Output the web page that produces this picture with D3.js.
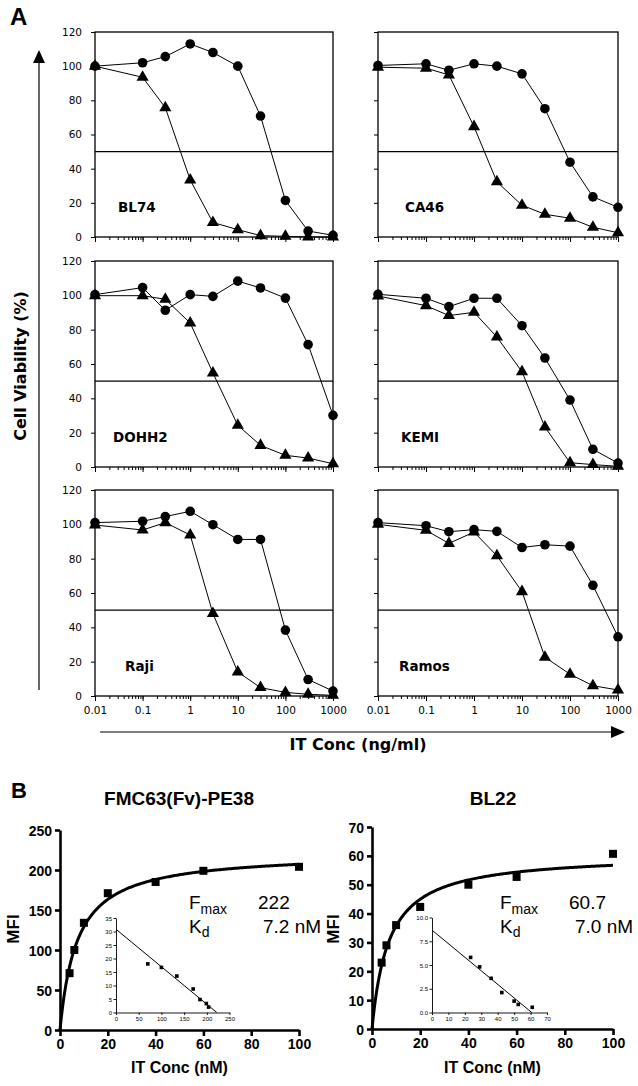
<!DOCTYPE html>
<html><head><meta charset="utf-8">
<script src="https://cdn.jsdelivr.net/npm/d3@7"></script>
<style>body{margin:0;background:#fff}</style>
</head><body>
<svg id="c" width="638" height="1086"></svg>
<script>
// ---------- Panel A data ----------
const concentrations = [0.01, 0.1, 0.3, 1, 3, 10, 30, 100, 300, 1000];
const cellLines = ["BL74", "CA46", "DOHH2", "KEMI", "Raji", "Ramos"];
const circleBL74    = [100, 102, 105.6, 113, 108, 100, 70.8, 21.4, 3.5, 1];
const triangleBL74  = [100, 93.5, 75.7, 33.4, 8.5, 4.3, 0.8, 0.4, 0, 0];
const circleCA46    = [100.4, 101.4, 97.6, 101.4, 100, 95.5, 75.1, 43.8, 23.5, 17.4];
const triangleCA46  = [99.4, 98.8, 94.9, 64.6, 32.3, 18.6, 13.3, 11, 5.7, 2.5];
const circleDOHH2   = [100.4, 104.5, 91.3, 100.4, 99.4, 108.3, 104.3, 98.4, 71.3, 30.1];
const triangleDOHH2 = [99.8, 99.8, 97.7, 83.9, 54.8, 24.3, 12.6, 6.8, 5.2, 1.9];
const circleKEMI    = [100.6, 98.3, 93.4, 98.3, 98.3, 82.3, 63.5, 39, 10.3, 2.3];
const triangleKEMI  = [99.6, 94, 88.2, 90.1, 75.7, 55.5, 23.3, 2.5, 1.4, 0.4];
const circleRaji    = [101, 101.8, 104.5, 107.6, 99.8, 91.2, 91.2, 38.4, 9.6, 2.9];
const triangleRaji  = [99.6, 96.7, 101, 93.8, 48, 14, 4.9, 2.1, 1, 0.4];
const circleRamos   = [101, 99.2, 95.7, 96.9, 95.9, 86.5, 88.1, 87.3, 64.5, 34.5];
const triangleRamos = [100, 96.5, 88.9, 95.5, 81.7, 60.8, 22.6, 12.7, 6, 3.5];
const viabilityTicks = [0, 20, 40, 60, 80, 100, 120];
const concTickValues = [0.01, 0.1, 1, 10, 100, 1000];
const concTickLabels = ["0.01", "0.1", "1", "10", "100", "1000"];
const halfViability = 50;

// ---------- Panel B data ----------
const bindingConc = [4, 6, 10, 20, 40, 60, 100];
const fmcMFI  = [71, 100, 134, 171, 185, 199, 204];
const bl22MFI = [23, 29, 36, 42.3, 50, 52.7, 60.7];
const fmcScatchardX  = [70, 100, 134, 170, 185, 199, 204];
const fmcScatchardY  = [18, 16.7, 13.5, 8.7, 4.8, 3.3, 2];
const bl22ScatchardX = [23.5, 29, 36, 42.5, 50, 52.5, 61];
const bl22ScatchardY = [5.8, 4.8, 3.6, 2.1, 1.2, 0.85, 0.55];
const fmcFmax = 222, fmcKd = 7.2;
const bl22Fmax = 60.7, bl22Kd = 7.0;
const bindingXTicks = [0, 20, 40, 60, 80, 100];
const fmcYTicks = [0, 50, 100, 150, 200, 250];
const bl22YTicks = [0, 10, 20, 30, 40, 50, 60, 70];
const fmcInsetXTicks = [0, 50, 100, 150, 200, 250];
const fmcInsetYTicks = [0, 5, 10, 15, 20, 25, 30, 35];
const bl22InsetXTicks = [0, 10, 20, 30, 40, 50, 60, 70];
const bl22InsetYTicks = [0, 2.5, 5, 7.5, 10];

const seriesByLine = {
  BL74: [circleBL74, triangleBL74], CA46: [circleCA46, triangleCA46],
  DOHH2: [circleDOHH2, triangleDOHH2], KEMI: [circleKEMI, triangleKEMI],
  Raji: [circleRaji, triangleRaji], Ramos: [circleRamos, triangleRamos]
};

const svg = d3.select("#c");
svg.append("rect").attr("width", 638).attr("height", 1086).attr("fill", "#fff");

// ---------- Layout (panel A) ----------
const colX = [[95, 333], [378, 618]];
const rowY = [[32, 237], [261, 467], [490, 696]];
const labelDx = [23, 27, 18, 23, 30, 21];
const fontA = "DejaVu Sans, Verdana, sans-serif";

cellLines.forEach((name, i) => {
  const col = i % 2, row = Math.floor(i / 2);
  const x = d3.scaleLog().domain([0.01, 1000]).range(colX[col]);
  const y = d3.scaleLinear().domain([0, 120]).range([rowY[row][1], rowY[row][0]]);
  const g = svg.append("g");

  g.append("rect").attr("x", x.range()[0]).attr("y", y(120))
    .attr("width", x.range()[1] - x.range()[0]).attr("height", y(0) - y(120))
    .attr("fill", "none").attr("stroke", "#000").attr("stroke-width", 1.3);

  const ya = g.append("g").attr("transform", `translate(${x.range()[0]},0)`)
    .call(d3.axisLeft(y).tickValues(viabilityTicks).tickSize(4).tickSizeOuter(0)
      .tickFormat(col === 0 ? d3.format("d") : () => ""));
  ya.select(".domain").remove();
  ya.selectAll("text").attr("font-family", fontA).attr("font-size", 10.5).attr("fill", "#000").attr("dx", -6);

  const xa = g.append("g").attr("transform", `translate(0,${y(0)})`)
    .call(d3.axisBottom(x).tickValues(x.ticks()).tickSize(3).tickSizeOuter(0).tickFormat(() => ""));
  xa.select(".domain").remove();
  const xm = g.append("g").attr("transform", `translate(0,${y(0)})`)
    .call(d3.axisBottom(x).tickValues(concTickValues).tickSize(5).tickSizeOuter(0)
      .tickFormat((d, k) => row === 2 ? concTickLabels[k] : ""));
  xm.select(".domain").remove();
  xm.selectAll("text").attr("font-family", fontA).attr("font-size", 10.5).attr("fill", "#000").attr("dy", "0.95em");

  g.append("line").attr("x1", x.range()[0]).attr("x2", x.range()[1])
    .attr("y1", y(halfViability)).attr("y2", y(halfViability))
    .attr("stroke", "#000").attr("stroke-width", 1.2);

  const [circ, tri] = seriesByLine[name];
  const line = d3.line().x((d, k) => x(concentrations[k])).y(d => y(d));
  [tri, circ].forEach(s => g.append("path").attr("d", line(s)).attr("fill", "none")
    .attr("stroke", "#000").attr("stroke-width", 1));
  g.selectAll(".tri").data(tri).join("path")
    .attr("transform", (d, k) => `translate(${x(concentrations[k])},${y(d)})`)
    .attr("d", d3.symbol().type(d3.symbolTriangle).size(64)).attr("fill", "#000");
  g.selectAll(".circ").data(circ).join("circle")
    .attr("cx", (d, k) => x(concentrations[k])).attr("cy", d => y(d)).attr("r", 4.8).attr("fill", "#000");

  g.append("text").attr("x", x.range()[0] + labelDx[i]).attr("y", y(14.5))
    .attr("font-family", fontA).attr("font-weight", "bold").attr("font-size", 13.5).text(name);
});

svg.append("line").attr("x1", 39).attr("x2", 39).attr("y1", 690).attr("y2", 60).attr("stroke", "#000").attr("stroke-width", 1.2);
svg.append("path").attr("d", "M33,63L45,63L39,50Z").attr("fill", "#000");
svg.append("line").attr("x1", 100).attr("x2", 614).attr("y1", 732).attr("y2", 732).attr("stroke", "#000").attr("stroke-width", 1.2);
svg.append("path").attr("d", "M611,726L611,738L625,732Z").attr("fill", "#000");
svg.append("text").attr("transform", "translate(26,366) rotate(-90)").attr("text-anchor", "middle")
  .attr("font-family", fontA).attr("font-weight", "bold").attr("font-size", 16).text("Cell Viability (%)");
svg.append("text").attr("x", 358).attr("y", 750).attr("text-anchor", "middle")
  .attr("font-family", fontA).attr("font-weight", "bold").attr("font-size", 16).text("IT Conc (ng/ml)");
svg.append("text").attr("x", 10).attr("y", 25).attr("font-family", "Liberation Sans, Arial, sans-serif")
  .attr("font-weight", "bold").attr("font-size", 24).text("A");
svg.append("text").attr("x", 11).attr("y", 798).attr("font-family", "Liberation Sans, Arial, sans-serif")
  .attr("font-weight", "bold").attr("font-size", 22).text("B");

// ---------- Panel B ----------
const fontB = "Liberation Sans, Arial, sans-serif";
function binding(o) {
  const g = svg.append("g");
  const x = d3.scaleLinear().domain([0, 100]).range(o.xr);
  const y = d3.scaleLinear().domain([0, o.ymax]).range(o.yr);
  const ya = g.append("g").attr("transform", `translate(${o.xr[0]},0)`)
    .call(d3.axisLeft(y).tickValues(o.yTicks).tickSize(5).tickSizeOuter(0).tickPadding(3));
  const xa = g.append("g").attr("transform", `translate(0,${o.yr[0]})`)
    .call(d3.axisBottom(x).tickValues(bindingXTicks).tickSize(6).tickSizeOuter(0).tickPadding(3));
  [ya, xa].forEach(a => {
    a.selectAll("path,line").attr("stroke", "#000").attr("stroke-width", 2.6);
    a.selectAll("text").attr("font-family", fontB).attr("font-weight", "bold").attr("font-size", 14).attr("fill", "#000");
  });
  ya.selectAll("text").attr("dy", "0.36em");
  g.append("text").attr("x", o.titleX).attr("y", 805).attr("text-anchor", "middle")
    .attr("font-family", fontB).attr("font-weight", "bold").attr("font-size", 19).text(o.title);
  g.append("text").attr("x", (o.xr[0] + o.xr[1]) / 2).attr("y", 1073).attr("text-anchor", "middle")
    .attr("font-family", fontB).attr("font-weight", "bold").attr("font-size", 16).text("IT Conc (nM)");
  g.append("text").attr("transform", `translate(${o.mfiX},929) rotate(-90)`).attr("text-anchor", "middle")
    .attr("font-family", fontB).attr("font-weight", "bold").attr("font-size", 17).text("MFI");
  const fit = d3.range(0, 100.01, 0.5).map(c => [c, o.fmax * c / (o.kd + c)]);
  g.append("path").attr("d", d3.line().x(d => x(d[0])).y(d => y(d[1]))(fit))
    .attr("fill", "none").attr("stroke", "#000").attr("stroke-width", 3);
  g.selectAll(".sq").data(o.mfi).join("rect")
    .attr("x", (d, k) => x(bindingConc[k]) - 4).attr("y", d => y(d) - 4)
    .attr("width", 8).attr("height", 8).attr("fill", "#000");
  const t1 = g.append("text").attr("x", o.fx).attr("y", 909).attr("font-family", fontB).attr("font-size", 19);
  t1.append("tspan").text("F");
  t1.append("tspan").attr("font-size", 14).attr("dy", 5).text("max");
  g.append("text").attr("x", o.fvx).attr("y", 909).attr("font-family", fontB).attr("font-size", 19).text(o.fmaxText);
  const t2 = g.append("text").attr("x", o.fx).attr("y", 933).attr("font-family", fontB).attr("font-size", 19);
  t2.append("tspan").text("K");
  t2.append("tspan").attr("font-size", 14).attr("dy", 4).text("d");
  g.append("text").attr("x", o.kvx).attr("y", 933).attr("font-family", fontB).attr("font-size", 19).text(o.kdText);

  const ix = d3.scaleLinear().domain(o.ixd).range(o.ixr);
  const iy = d3.scaleLinear().domain(o.iyd).range(o.iyr);
  const iya = g.append("g").attr("transform", `translate(${o.ixr[0]},0)`)
    .call(d3.axisLeft(iy).tickValues(o.iyTicks).tickSize(2.5).tickSizeOuter(0).tickPadding(1.5).tickFormat(o.iyFmt));
  const ixa = g.append("g").attr("transform", `translate(0,${o.iyr[0]})`)
    .call(d3.axisBottom(ix).tickValues(o.ixTicks).tickSize(2.5).tickSizeOuter(0).tickPadding(1.5));
  [iya, ixa].forEach(a => {
    a.selectAll("path,line").attr("stroke", "#000").attr("stroke-width", 0.9);
    a.selectAll("text").attr("font-family", fontB).attr("font-size", 6).attr("fill", "#000");
  });
  iya.selectAll("text").attr("dy", "0.35em");
  g.append("line").attr("x1", ix(0)).attr("y1", iy(o.fmax / o.kd)).attr("x2", ix(o.fmax)).attr("y2", iy(0))
    .attr("stroke", "#000").attr("stroke-width", 1);
  g.selectAll(".isq").data(o.sy).join("rect")
    .attr("x", (d, k) => ix(o.sx[k]) - 1.8).attr("y", d => iy(d) - 1.8)
    .attr("width", 3.6).attr("height", 3.6).attr("fill", "#000");
}

binding({
  xr: [60, 299], yr: [1030, 830], ymax: 250, yTicks: fmcYTicks, title: "FMC63(Fv)-PE38", titleX: 179,
  mfiX: 19, fmax: fmcFmax, kd: fmcKd, mfi: fmcMFI, fx: 189, fvx: 258, kvx: 263,
  fmaxText: "222", kdText: "7.2 nM",
  ixd: [0, 250], ixr: [116, 229.5], iyd: [0, 35], iyr: [1012.5, 918], ixTicks: fmcInsetXTicks,
  iyTicks: fmcInsetYTicks, iyFmt: d3.format("d"), sx: fmcScatchardX, sy: fmcScatchardY
});
binding({
  xr: [372, 613], yr: [1029, 827], ymax: 70, yTicks: bl22YTicks, title: "BL22", titleX: 493,
  mfiX: 339, fmax: bl22Fmax, kd: bl22Kd, mfi: bl22MFI, fx: 500, fvx: 569, kvx: 575,
  fmaxText: "60.7", kdText: "7.0 nM",
  ixd: [0, 70], ixr: [432, 547], iyd: [0, 10], iyr: [1012.5, 917.5], ixTicks: bl22InsetXTicks,
  iyTicks: bl22InsetYTicks, iyFmt: d3.format(".1f"), sx: bl22ScatchardX, sy: bl22ScatchardY
});
</script>
</body></html>
